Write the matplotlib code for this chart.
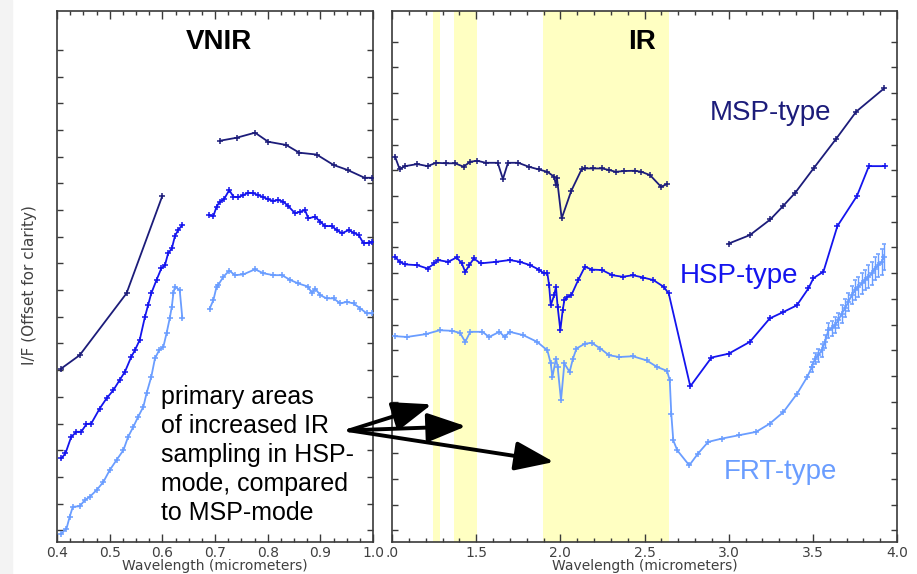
"""
CRISM-style VNIR / IR spectra of three observation types (MSP, HSP, FRT),
offset for clarity, with the extra IR sampling regions shaded.
"""

from __future__ import annotations

import matplotlib

matplotlib.use("Agg")

import matplotlib.pyplot as plt
from matplotlib.ticker import FixedLocator, MultipleLocator, NullFormatter, FixedFormatter

OUT_PATH = "out.png"

MSP_COLOR = "#1c1c7a"
HSP_COLOR = "#1414ee"
FRT_COLOR = "#6a9dff"
BAND_COLOR = "#ffffc2"
AXIS_GREY = "#3a3a3a"
LABEL_GREY = "#404040"

# ---- VNIR (0.4 - 1.0 um) -------------------------------------------------
VNIR_MSP_A_WL = [0.408, 0.443, 0.532, 0.600]
VNIR_MSP_A_IF = [6.06, 6.56, 8.88, 12.53]
VNIR_MSP_B_WL = [0.710, 0.741, 0.776, 0.801, 0.835, 0.860, 0.893, 0.925, 0.952, 0.984, 0.998]
VNIR_MSP_B_IF = [14.60, 14.71, 14.90, 14.56, 14.44, 14.15, 14.08, 13.69, 13.50, 13.21, 13.21]

VNIR_HSP_A_WL = [0.408, 0.416, 0.427, 0.437, 0.446, 0.456, 0.465, 0.481, 0.494, 0.507,
                 0.519, 0.529, 0.541, 0.548, 0.557, 0.567, 0.573, 0.579, 0.589, 0.598,
                 0.605, 0.611, 0.618, 0.624, 0.630, 0.638]
VNIR_HSP_A_IF = [2.69, 2.88, 3.50, 3.69, 3.69, 3.98, 4.00, 4.56, 4.94, 5.25,
                 5.63, 5.94, 6.50, 6.75, 7.13, 8.00, 8.44, 8.88, 9.38, 9.81,
                 9.94, 10.38, 10.56, 11.03, 11.25, 11.44]
VNIR_HSP_B_WL = [0.689, 0.697, 0.703, 0.709, 0.717, 0.727, 0.735, 0.744, 0.754, 0.763,
                 0.773, 0.782, 0.792, 0.801, 0.811, 0.820, 0.830, 0.839, 0.852, 0.862,
                 0.871, 0.877, 0.890, 0.900, 0.909, 0.922, 0.931, 0.941, 0.954, 0.963,
                 0.973, 0.982, 0.992, 0.998]
VNIR_HSP_B_IF = [11.81, 11.78, 12.13, 12.31, 12.40, 12.75, 12.50, 12.48, 12.56, 12.65,
                 12.63, 12.56, 12.48, 12.40, 12.34, 12.38, 12.31, 12.15, 11.88, 11.94,
                 12.00, 11.69, 11.75, 11.56, 11.40, 11.40, 11.25, 11.13, 11.25, 11.15,
                 11.06, 10.75, 10.78, 10.81]

VNIR_FRT_A_WL = [0.408, 0.418, 0.424, 0.430, 0.443, 0.453, 0.462, 0.475, 0.488, 0.500,
                 0.513, 0.526, 0.535, 0.545, 0.554, 0.564, 0.570, 0.579, 0.586, 0.594,
                 0.602, 0.608, 0.614, 0.618, 0.621, 0.624, 0.633, 0.638]
VNIR_FRT_A_IF = [-0.13, 0.06, 0.50, 0.88, 0.90, 1.13, 1.25, 1.50, 1.81, 2.25,
                 2.63, 3.00, 3.50, 3.88, 4.25, 4.63, 5.13, 5.75, 6.44, 6.75,
                 6.88, 7.38, 7.94, 8.38, 8.88, 9.13, 9.00, 7.94]
VNIR_FRT_B_WL = [0.690, 0.697, 0.703, 0.706, 0.716, 0.727, 0.738, 0.754, 0.776, 0.792,
                 0.811, 0.827, 0.843, 0.858, 0.877, 0.884, 0.890, 0.900, 0.912, 0.925,
                 0.938, 0.950, 0.963, 0.976, 0.988, 0.998]
VNIR_FRT_B_IF = [8.31, 8.63, 9.13, 9.19, 9.50, 9.73, 9.56, 9.59, 9.78, 9.63,
                 9.56, 9.56, 9.38, 9.25, 9.13, 8.88, 9.06, 8.81, 8.69, 8.69,
                 8.50, 8.56, 8.50, 8.31, 8.13, 8.13]

# ---- IR (1.0 - 4.0 um) ---------------------------------------------------
IR_MSP_A_WL = [1.018, 1.045, 1.079, 1.150, 1.211, 1.262, 1.323, 1.374, 1.425, 1.465,
               1.506, 1.557, 1.628, 1.659, 1.689, 1.750, 1.811, 1.872, 1.923, 1.963,
               1.974, 1.980, 2.008, 2.065, 2.126, 2.146, 2.197, 2.248, 2.289, 2.329,
               2.380, 2.441, 2.482, 2.533, 2.598, 2.634]
IR_MSP_A_IF = [14.53, 14.05, 14.16, 14.24, 14.16, 14.29, 14.27, 14.27, 14.14, 14.33,
               14.37, 14.29, 14.29, 13.66, 14.29, 14.29, 14.14, 14.03, 13.94, 13.75,
               13.42, 13.68, 12.13, 13.20, 14.03, 14.07, 14.07, 14.07, 14.01, 13.94,
               13.97, 13.98, 13.94, 13.81, 13.36, 13.46]
IR_MSP_B_WL = [3.000, 3.126, 3.248, 3.325, 3.396, 3.504, 3.636, 3.758, 3.925]
IR_MSP_B_IF = [11.15, 11.48, 12.09, 12.62, 13.13, 14.07, 15.20, 16.28, 17.19]

IR_HSP_WL = [1.018, 1.045, 1.079, 1.150, 1.211, 1.252, 1.272, 1.333, 1.384, 1.415,
             1.435, 1.459, 1.486, 1.526, 1.618, 1.699, 1.760, 1.821, 1.872, 1.902,
             1.923, 1.933, 1.943, 1.963, 1.974, 1.984, 2.000, 2.014, 2.024, 2.041,
             2.065, 2.106, 2.146, 2.187, 2.248, 2.309, 2.370, 2.431, 2.492, 2.553,
             2.614, 2.644, 2.772, 2.898, 3.000, 3.126, 3.244, 3.325, 3.405, 3.474,
             3.503, 3.563, 3.646, 3.762, 3.833, 3.931]
IR_HSP_IF = [10.64, 10.44, 10.34, 10.31, 10.18, 10.38, 10.51, 10.44, 10.61, 10.38,
             10.05, 10.31, 10.57, 10.38, 10.44, 10.51, 10.44, 10.31, 10.14, 9.99,
             9.99, 9.55, 8.75, 9.14, 9.47, 8.69, 7.78, 8.56, 8.95, 9.08,
             9.14, 9.73, 10.25, 10.14, 10.12, 9.92, 9.86, 9.92, 9.83, 9.73,
             9.47, 9.21, 5.60, 6.72, 6.87, 7.33, 8.24, 8.49, 8.75, 9.41,
             9.80, 10.06, 11.83, 13.00, 14.16, 14.16]

IR_FRT_WL = [1.018, 1.089, 1.201, 1.283, 1.354, 1.404, 1.435, 1.465, 1.537, 1.577,
             1.638, 1.669, 1.699, 1.780, 1.862, 1.923, 1.943, 1.953, 1.974, 1.984,
             2.004, 2.024, 2.055, 2.075, 2.096, 2.146, 2.187, 2.238, 2.289, 2.350,
             2.431, 2.512, 2.573, 2.634, 2.650, 2.659, 2.671, 2.695, 2.766, 2.817,
             2.878, 2.959, 3.061, 3.163, 3.244, 3.325, 3.407, 3.467]
IR_FRT_IF = [7.55, 7.52, 7.63, 7.78, 7.76, 7.68, 7.33, 7.72, 7.72, 7.52,
             7.72, 7.52, 7.72, 7.59, 7.33, 7.00, 6.49, 5.97, 6.68, 6.36,
             5.06, 6.49, 6.16, 6.68, 7.07, 7.26, 7.29, 7.07, 6.81, 6.74,
             6.77, 6.61, 6.36, 6.20, 5.84, 4.54, 3.50, 3.11, 2.53, 2.98,
             3.44, 3.57, 3.70, 3.83, 4.15, 4.60, 5.32, 5.97]
# noisy long-wavelength tail, drawn with its scatter bars
IR_FRT_TAIL_WL = [3.494, 3.513, 3.533, 3.553, 3.573, 3.592, 3.612, 3.632, 3.652, 3.672,
                  3.691, 3.711, 3.731, 3.751, 3.770, 3.790, 3.810, 3.830, 3.850, 3.870,
                  3.889, 3.909, 3.923]
IR_FRT_TAIL_IF = [6.35, 6.68, 6.81, 7.00, 7.33, 7.78, 7.85, 7.98, 8.17, 8.43,
                  8.63, 8.88, 9.14, 9.34, 9.47, 9.60, 9.73, 9.86, 9.99, 10.18,
                  10.31, 10.44, 10.64]
IR_FRT_TAIL_ERR = [0.20, 0.20, 0.25, 0.25, 0.25, 0.30, 0.30, 0.30, 0.30, 0.35,
                   0.35, 0.35, 0.35, 0.40, 0.40, 0.40, 0.40, 0.45, 0.45, 0.45,
                   0.45, 0.50, 0.50]

# IR wavelength ranges with extra sampling in HSP mode
IR_BANDS = [(1.245, 1.283), (1.370, 1.502), (1.898, 2.648)]

VNIR_XTICKS = [0.4, 0.5, 0.6, 0.7, 0.8, 0.9, 1.0]
VNIR_XLABELS = ["0.4", "0.5", "0.6", "0.7", "0.8", "0.9", "1.0"]
IR_XTICKS = [1.0, 1.5, 2.0, 2.5, 3.0, 3.5, 4.0]
IR_XLABELS = [".0", "1.5", "2.0", "2.5", "3.0", "3.5", "4.0"]

NOTE_TEXT = ("primary areas\nof increased IR\nsampling in HSP-\n"
             "mode, compared\nto MSP-mode")
# arrow tail (shared) and heads, IR-axis data coordinates
ARROW_TAIL = (0.746, 3.89)
ARROW_HEADS = [(1.236, 4.90), (1.440, 4.05), (1.962, 2.66)]


def style_axis(ax, n_yticks: int) -> None:
    """IDL-like box: inward ticks on all four sides, no y labels."""
    ax.tick_params(which="both", direction="in", top=True, right=True,
                   color=AXIS_GREY, labelcolor=LABEL_GREY, labelsize=10, pad=3)
    ax.tick_params(which="major", axis="x", length=6, width=1.0)
    ax.tick_params(which="minor", axis="x", length=3, width=1.0)
    ax.tick_params(axis="y", length=4.5, width=1.0)
    ax.yaxis.set_major_locator(FixedLocator(list(range(n_yticks))))
    ax.yaxis.set_major_formatter(NullFormatter())
    for spine in ax.spines.values():
        spine.set_color(AXIS_GREY)
        spine.set_linewidth(1.2)
    ax.set_xlabel("Wavelength (micrometers)", fontsize=10, color=LABEL_GREY,
                  labelpad=-0.5)


def spectrum(ax, wl, val, color) -> None:
    ax.plot(wl, val, color=color, lw=1.3, marker="+", ms=4.5, mew=1.1, zorder=3)


def main() -> None:
    fig = plt.figure(figsize=(9.17, 5.74), dpi=100)
    W, H = 917.0, 574.0
    ax_v = fig.add_axes([57 / W, 32 / H, 316 / W, 531 / H])
    ax_i = fig.add_axes([392 / W, 32 / H, 505 / W, 531 / H])

    # faint shadow strip on the left edge of the slide
    fig.patches.append(plt.Rectangle((0, 0), 12 / W, 1, transform=fig.transFigure,
                                     color="#f3f3f3", zorder=-10))

    # VNIR panel
    spectrum(ax_v, VNIR_MSP_A_WL, VNIR_MSP_A_IF, MSP_COLOR)
    spectrum(ax_v, VNIR_MSP_B_WL, VNIR_MSP_B_IF, MSP_COLOR)
    spectrum(ax_v, VNIR_HSP_A_WL, VNIR_HSP_A_IF, HSP_COLOR)
    spectrum(ax_v, VNIR_HSP_B_WL, VNIR_HSP_B_IF, HSP_COLOR)
    spectrum(ax_v, VNIR_FRT_A_WL, VNIR_FRT_A_IF, FRT_COLOR)
    spectrum(ax_v, VNIR_FRT_B_WL, VNIR_FRT_B_IF, FRT_COLOR)
    ax_v.set_xlim(0.4, 1.0)
    ax_v.set_ylim(-0.44, 19.46)
    ax_v.xaxis.set_major_locator(FixedLocator(VNIR_XTICKS))
    ax_v.xaxis.set_major_formatter(FixedFormatter(VNIR_XLABELS))
    ax_v.xaxis.set_minor_locator(MultipleLocator(0.025))
    style_axis(ax_v, 19)
    ax_v.set_ylabel("I/F (Offset for clarity)", fontsize=11, color=LABEL_GREY)
    ax_v.yaxis.set_label_coords(-0.063, 0.484)
    ax_v.text(0.513, 0.928, "VNIR", transform=ax_v.transAxes, ha="center",
              va="baseline", fontsize=20, fontweight="bold", family="Liberation Sans")
    ax_v.text(0.5975, 5.45, NOTE_TEXT, ha="left", va="top", fontsize=18,
              family="Liberation Sans", linespacing=1.27, zorder=5)

    # IR panel
    for lo, hi in IR_BANDS:
        ax_i.axvspan(lo, hi, color=BAND_COLOR, lw=0, zorder=0)
    spectrum(ax_i, IR_MSP_A_WL, IR_MSP_A_IF, MSP_COLOR)
    spectrum(ax_i, IR_MSP_B_WL, IR_MSP_B_IF, MSP_COLOR)
    spectrum(ax_i, IR_HSP_WL, IR_HSP_IF, HSP_COLOR)
    spectrum(ax_i, IR_FRT_WL + IR_FRT_TAIL_WL[:1], IR_FRT_IF + IR_FRT_TAIL_IF[:1], FRT_COLOR)
    ax_i.errorbar(IR_FRT_TAIL_WL, IR_FRT_TAIL_IF, yerr=IR_FRT_TAIL_ERR, color=FRT_COLOR,
                  lw=1.3, marker="+", ms=4.5, mew=1.1, elinewidth=1.0, capsize=1.5, zorder=3)
    ax_i.set_xlim(1.0, 4.0)
    ax_i.set_ylim(-0.45, 20.19)
    ax_i.xaxis.set_major_locator(FixedLocator(IR_XTICKS))
    ax_i.xaxis.set_major_formatter(FixedFormatter(IR_XLABELS))
    ax_i.xaxis.set_minor_locator(MultipleLocator(0.1))
    style_axis(ax_i, 20)
    ax_i.text(0.496, 0.928, "IR", transform=ax_i.transAxes, ha="center",
              va="baseline", fontsize=20, fontweight="bold", family="Liberation Sans")
    ax_i.text(2.888, 15.95, "MSP-type", color=MSP_COLOR, fontsize=20, family="Liberation Sans")
    ax_i.text(2.711, 9.60, "HSP-type", color=HSP_COLOR, fontsize=20, family="Liberation Sans")
    ax_i.text(2.970, 2.01, "FRT-type", color=FRT_COLOR, fontsize=20, family="Liberation Sans")

    for head in ARROW_HEADS:
        ax_i.annotate("", xy=head, xytext=ARROW_TAIL, annotation_clip=False, zorder=6,
                      arrowprops=dict(arrowstyle="-|>,head_length=1.6,head_width=0.6",
                                      mutation_scale=15, color="black", lw=2.8,
                                      shrinkA=0, shrinkB=0))

    fig.savefig(OUT_PATH, dpi=100)
    plt.close(fig)


if __name__ == "__main__":
    main()
